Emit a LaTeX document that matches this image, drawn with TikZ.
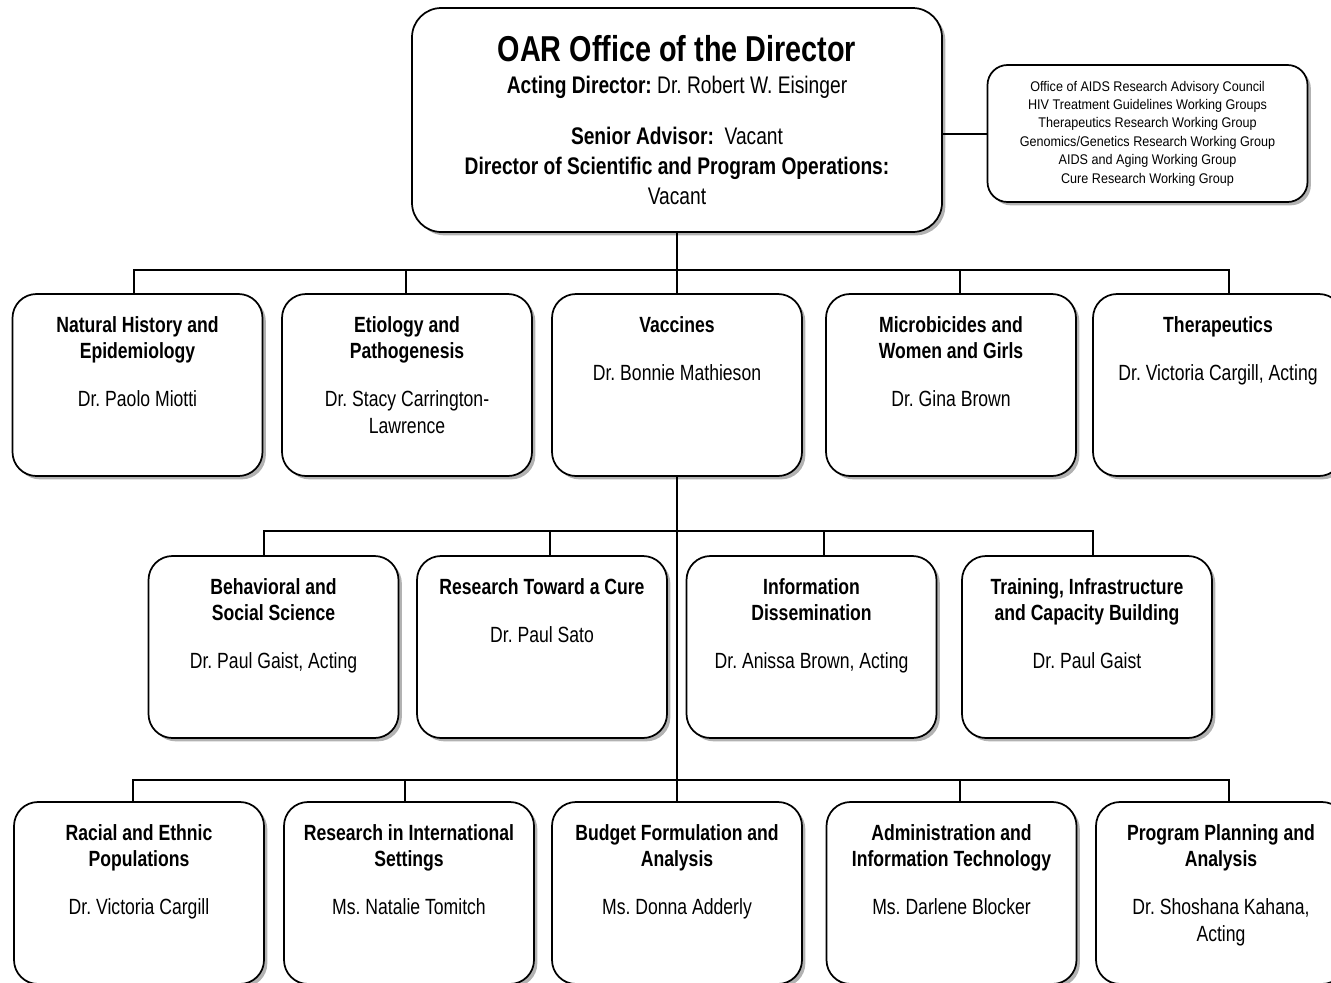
\documentclass[tikz,border=0pt]{standalone}
\usepackage{fontspec}
\setmainfont{Liberation Sans}[FakeStretch=0.8]
\newfontfamily\advfont{Liberation Sans}[FakeStretch=0.9]
\frenchspacing
\usepackage{tikz}
\usetikzlibrary{positioning,shadows}

\begin{document}
\begin{tikzpicture}
	[x=0.75pt, y=-0.75pt,
	box/.style ={rectangle, draw=black, line width=1.3pt, fill=white, drop shadow={shadow xshift=2.5pt, shadow yshift=-2.5pt, fill=black!30, opacity=1}},
	unit/.style ={box, rounded corners=18pt, minimum width=187.5pt, minimum height=136.5pt},
	office/.style ={box, rounded corners=22pt, minimum width=397.5pt, minimum height=168pt},
	adv/.style ={box, rounded corners=15pt, minimum width=240pt, minimum height=102.75pt, align=center, font=\advfont\fontsize{10.5pt}{13.8pt}\selectfont},
	txt/.style ={align=center, inner sep=0pt, font=\fontsize{16.5pt}{20pt}\selectfont},
	line/.style ={draw, line width=1.5pt}]
	\useasboundingbox (0,0) rectangle (1331,982);
	\clip (0,0) rectangle (1331,982);
	\coordinate (j1) at (677,270);
	\coordinate (j2) at (677,531);
	\coordinate (j3) at (677,780);
	% office of the director
	\draw (677, 120) node[office] (dir) {};
	\node[below=20.8pt of dir.north, txt, font=\fontsize{18pt}{22.5pt}\selectfont] (dir-t)
		{{\fontsize{27pt}{30pt}\selectfont\textbf{OAR Office of the Director}}\\[1.5pt]
		\textbf{Acting Director:} Dr. Robert W. Eisinger\\[15.75pt]
		\textbf{Senior Advisor:}\ \ Vacant\\
		\textbf{Director of Scientific and Program Operations:}\\
		Vacant};
	\draw (1147.5, 133.5) node[adv] (adv) {Office of AIDS Research Advisory Council\\
		HIV Treatment Guidelines Working Groups\\
		Therapeutics Research Working Group\\
		Genomics/Genetics Research Working Group\\
		AIDS and Aging Working Group\\
		Cure Research Working Group};
	% connectors
	\draw[line] (dir.east |- adv.west) -- (adv.west);
	\draw[line] (dir.south) -- (j1);
	\draw (137.5, 385) node[unit] (nhe) {};
	\draw (407, 385) node[unit] (eti) {};
	\draw (677, 385) node[unit] (vac) {};
	\draw (951, 385) node[unit] (mic) {};
	\draw (1218, 385) node[unit] (the) {};
	\draw (273.5, 647) node[unit] (beh) {};
	\draw (542, 647) node[unit] (cure) {};
	\draw (811.5, 647) node[unit] (info) {};
	\draw (1087, 647) node[unit] (trn) {};
	\draw (139, 893) node[unit] (rac) {};
	\draw (409, 893) node[unit] (int) {};
	\draw (677, 893) node[unit] (bud) {};
	\draw (951.5, 893) node[unit] (adm) {};
	\draw (1221, 893) node[unit] (ppa) {};
	\draw[line] ([xshift=-2.6pt]nhe.north) |- (j1) -| ([xshift=8.25pt]the.north);
	\draw[line] (j1) -| ([xshift=-1pt]eti.north);
	\draw[line] (j1) -- (vac.north);
	\draw[line] (j1) -| ([xshift=6.75pt]mic.north);
	\draw[line] (vac.south) -- (j2) -- (j3) -- (bud.north);
	\draw[line] ([xshift=-7.1pt]beh.north) |- (j2) -| ([xshift=4.5pt]trn.north);
	\draw[line] (j2) -| ([xshift=6pt]cure.north);
	\draw[line] (j2) -| ([xshift=9.4pt]info.north);
	\draw[line] ([xshift=-4.5pt]rac.north) |- (j3) -| ([xshift=6pt]ppa.north);
	\draw[line] (j3) -| ([xshift=-3pt]int.north);
	\draw[line] (j3) -| ([xshift=6.4pt]adm.north);
	% texts
	\node[txt, below=17.2pt of nhe.north] (nhe-t) {\textbf{Natural History and}\\\textbf{Epidemiology}\\[16pt]Dr. Paolo Miotti};
	\node[txt, below=17.2pt of eti.north] (eti-t) {\textbf{Etiology and}\\\textbf{Pathogenesis}\\[16pt]Dr. Stacy Carrington-\\Lawrence};
	\node[txt, below=17.2pt of vac.north] (vac-t) {\textbf{Vaccines}\\[16pt]Dr. Bonnie Mathieson};
	\node[txt, below=17.2pt of mic.north] (mic-t) {\textbf{Microbicides and}\\\textbf{Women and Girls}\\[16pt]Dr. Gina Brown};
	\node[txt, below=17.2pt of the.north] (the-t) {\textbf{Therapeutics}\\[16pt]Dr. Victoria Cargill, Acting};
	\node[txt, below=17.2pt of beh.north] (beh-t) {\textbf{Behavioral and}\\\textbf{Social Science}\\[16pt]Dr. Paul Gaist, Acting};
	\node[txt, below=17.2pt of cure.north] (cure-t) {\textbf{Research Toward a Cure}\\[16pt]Dr. Paul Sato};
	\node[txt, below=17.2pt of info.north] (info-t) {\textbf{Information}\\\textbf{Dissemination}\\[16pt]Dr. Anissa Brown, Acting};
	\node[txt, below=17.2pt of trn.north] (trn-t) {\textbf{Training, Infrastructure}\\\textbf{and Capacity Building}\\[16pt]Dr. Paul Gaist};
	\node[txt, below=17.2pt of rac.north] (rac-t) {\textbf{Racial and Ethnic}\\\textbf{Populations}\\[16pt]Dr. Victoria Cargill};
	\node[txt, below=17.2pt of int.north] (int-t) {\textbf{Research in International}\\\textbf{Settings}\\[16pt]Ms. Natalie Tomitch};
	\node[txt, below=17.2pt of bud.north] (bud-t) {\textbf{Budget Formulation and}\\\textbf{Analysis}\\[16pt]Ms. Donna Adderly};
	\node[txt, below=17.2pt of adm.north] (adm-t) {\textbf{Administration and}\\\textbf{Information Technology}\\[16pt]Ms. Darlene Blocker};
	\node[txt, below=17.2pt of ppa.north] (ppa-t) {\textbf{Program Planning and}\\\textbf{Analysis}\\[16pt]Dr. Shoshana Kahana,\\Acting};
\end{tikzpicture}
\end{document}
